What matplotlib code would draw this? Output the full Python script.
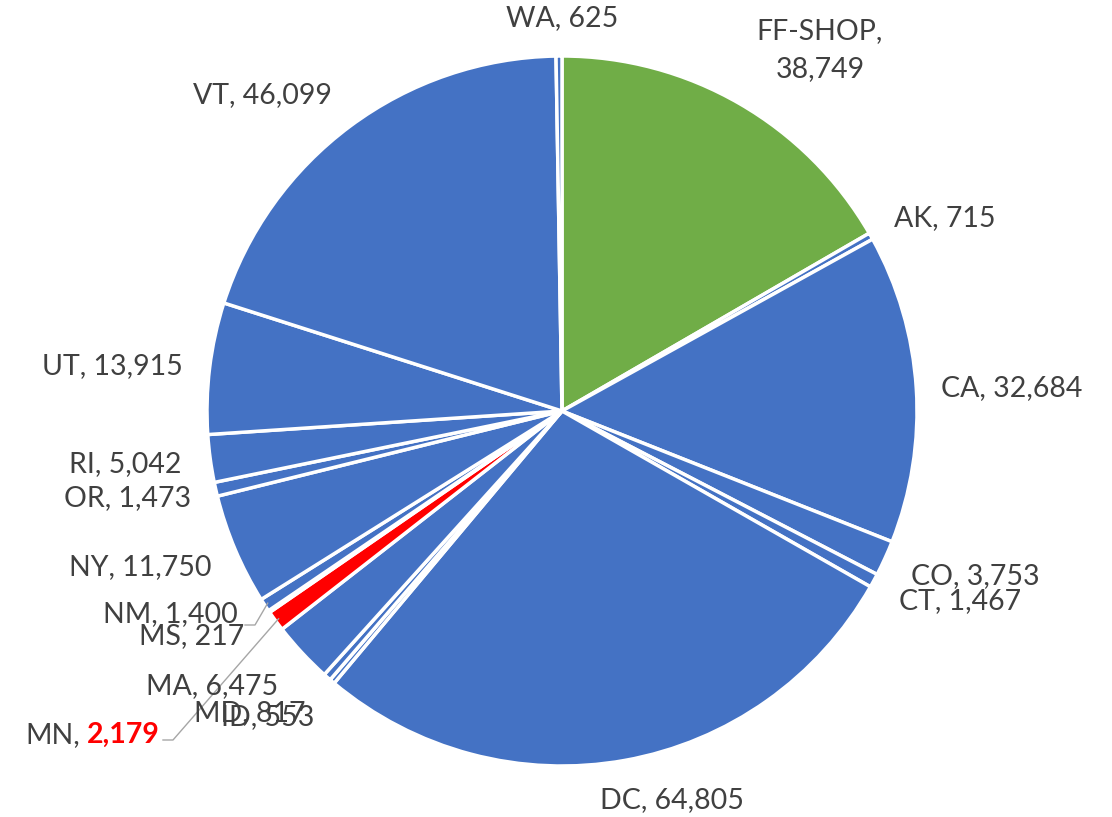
import numpy as np
import matplotlib.pyplot as plt

# data, clockwise from 12 o'clock
states = ['FF-SHOP', 'AK', 'CA', 'CO', 'CT', 'DC', 'ID', 'MD', 'MA', 'MN',
          'MS', 'NM', 'NY', 'OR', 'RI', 'UT', 'VT', 'WA']
counts = [38749, 715, 32684, 3753, 1467, 64805, 553, 817, 6475, 2179,
          217, 1400, 11750, 1473, 5042, 13915, 46099, 625]

blue, green, red = '#4472C4', '#70AD47', '#FF0000'
colors = [green if s == 'FF-SHOP' else red if s == 'MN' else blue for s in states]
txt = '#404040'

# label placement (pixel coords of label centre, y from top)
label_pos = {
    'WA': (562, 18), 'FF-SHOP': (820, 50), 'AK': (945, 218), 'CA': (1012, 388),
    'CO': (975, 576), 'CT': (960, 601), 'DC': (672, 800), 'ID': (268, 717),
    'MD': (250, 713), 'MA': (212, 686), 'MS': (192, 636),
    'NM': (170, 614), 'NY': (140, 567), 'OR': (128, 498), 'RI': (125, 464),
    'UT': (112, 366), 'VT': (262, 95),
}
leaders = {'NM': (245, 625), 'MN': (163, 740)}

W, H = 1112, 817
fig = plt.figure(figsize=(W / 100, H / 100), dpi=100)
ax = fig.add_axes([0, 0, 1, 1])
ax.set_aspect('equal')

cx, cy, r = 562, H - 411, 355
wedges, _ = ax.pie(counts, colors=colors, startangle=90, counterclock=False,
                   center=(cx, cy), radius=r, frame=True,
                   wedgeprops=dict(edgecolor='white', linewidth=2.5))
ax.set_xlim(0, W)
ax.set_ylim(0, H)
ax.axis('off')

fs = 20.5
font = 'Lato'
for s, v, w in zip(states, counts, wedges):
    if s in label_pos:
        x, y = label_pos[s]
        t = f'{s},\n{v:,}' if s == 'FF-SHOP' else f'{s}, {v:,}'
        ax.text(x, H - y, t, ha='center', va='center', fontsize=fs,
                color=txt, family=font, linespacing=1.55)
    if s in leaders:
        mid = np.deg2rad((w.theta1 + w.theta2) / 2)
        sx, sy = cx + r * 0.99 * np.cos(mid), cy + r * 0.99 * np.sin(mid)
        lx, ly = leaders[s]
        ax.plot([sx, lx + 10, lx], [sy, H - ly, H - ly], color='#A6A6A6', lw=1)

# MN label with highlighted value
ax.text(80, H - 735, 'MN,', ha='right', va='center', fontsize=fs, color=txt, family=font)
ax.text(87, H - 735, f'{counts[states.index("MN")]:,}', ha='left', va='center',
        fontsize=fs, color=red, family=font, fontweight='bold')

fig.savefig('out.png', dpi=100)
